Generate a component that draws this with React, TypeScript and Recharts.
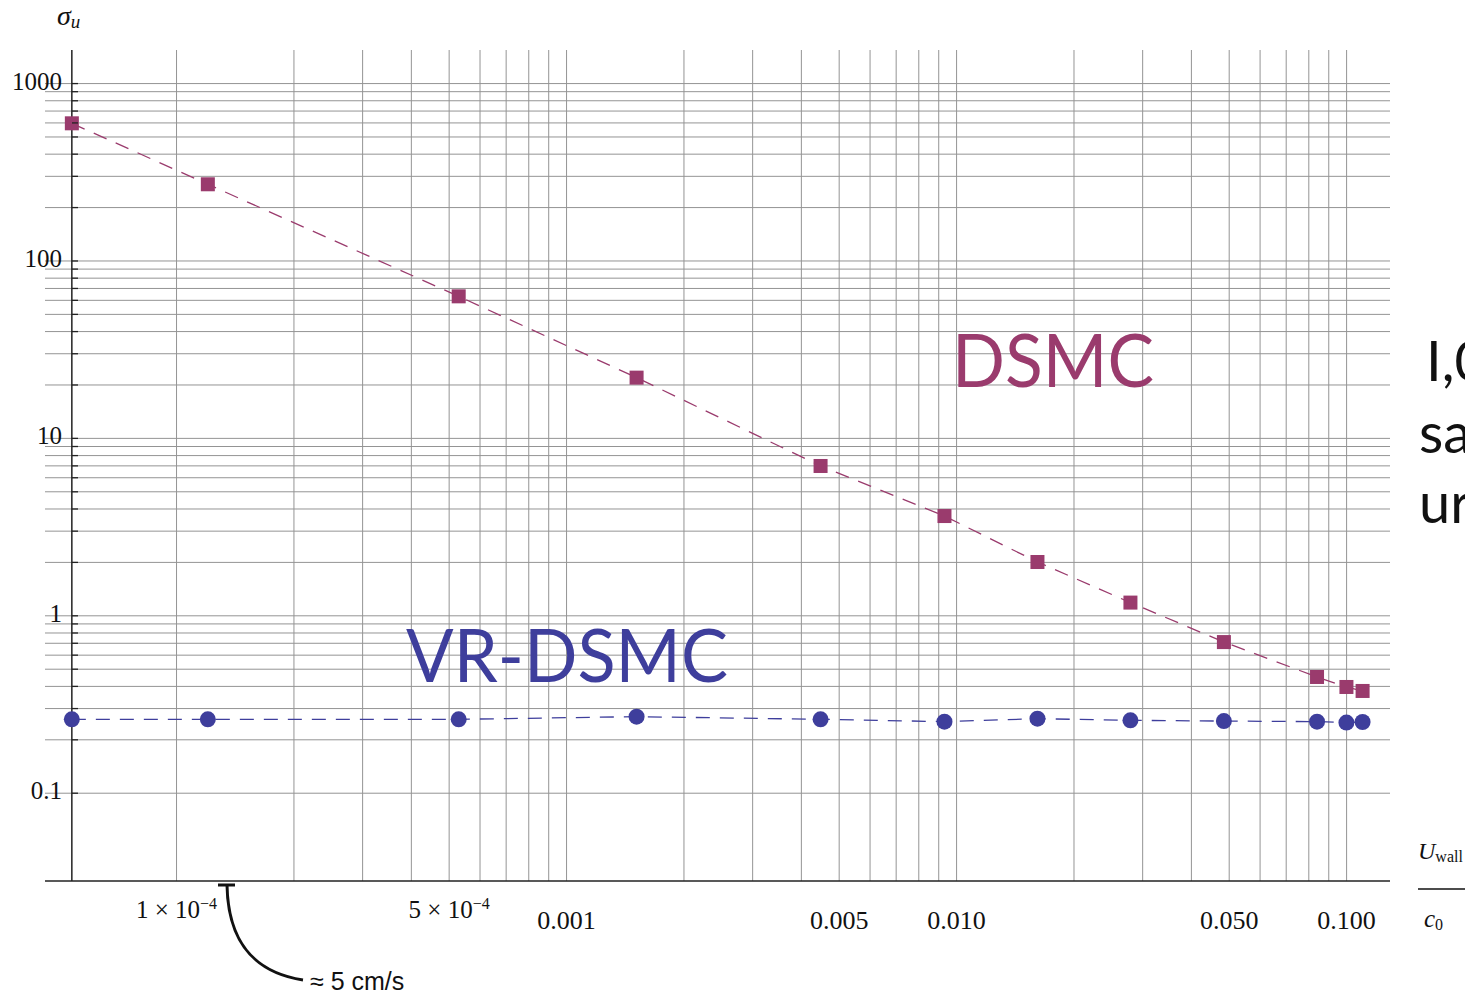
import React from "react";
import {
    ComposedChart,
    Line,
    XAxis,
    YAxis,
    CartesianGrid,
    ReferenceLine,
} from "recharts";

// wall speed U_wall / c0
const U = [5.39e-5, 1.203e-4, 5.29e-4, 1.512e-3, 4.48e-3, 9.31e-3, 0.01612, 0.02791, 0.04846, 0.08398, 0.0999, 0.1099];
// sigma_u, plain DSMC
const DSMC = [597, 270.6, 63.2, 22.0, 6.99, 3.65, 2.01, 1.187, 0.711, 0.452, 0.397, 0.377];
// sigma_u, variance reduced
const VR_DSMC = [0.261, 0.261, 0.261, 0.27, 0.261, 0.2532, 0.263, 0.2576, 0.255, 0.2532, 0.25, 0.252];

const X_TICKS = [1e-4, 5e-4, 0.001, 0.005, 0.01, 0.05, 0.1];
const X_TICK_LABELS = ["1 × 10|−4", "5 × 10|−4", "0.001", "0.005", "0.010", "0.050", "0.100"];
const Y_TICKS = [0.1, 1, 10, 100, 1000];
const Y_TICK_LABELS = ["0.1", "1", "10", "100", "1000"];

const X_DOMAIN = [4.6e-5, 0.1292];
const Y_DOMAIN = [0.032, 1546];
const Y_AXIS_AT = 5.39e-5;

const PLUM = "#9a3b6d";
const INDIGO = "#3e3e9c";
const GRID = "#949494";
const SERIF = "'Liberation Serif', 'Times New Roman', serif";
const SANS = "Lato, 'Open Sans', sans-serif";

const data = U.map((u, i) => ({ u, dsmc: DSMC[i], vr: VR_DSMC[i] }));

// grid at 1..9 x each decade
const decades = (from: number, to: number) => {
    const out: number[] = [];
    for (let k = from; k <= to; k++) {
        for (let m = 1; m <= 9; m++) {
            if (k === to && m > 1) break;
            out.push(m * Math.pow(10, k));
        }
    }
    return out;
};
const X_GRID = decades(-4, -1);
const Y_GRID = decades(-1, 3);

const isMajor = (v: number, list: number[]) =>
    list.findIndex((t) => Math.abs(t - v) / t < 1e-6);

function XTick(props: any) {
    const { x, payload } = props;
    const idx = isMajor(payload.value, X_TICKS);
    if (idx < 0) return null;
    const [base, sup] = X_TICK_LABELS[idx].split("|");
    if (sup) {
        return (
            <text x={x} y={918} textAnchor="middle" fontFamily={SERIF} fontSize={25} fill="#111">
                <tspan>{base}</tspan>
                <tspan dy={-9} fontSize={16}>{sup}</tspan>
            </text>
        );
    }
    return (
        <text x={x} y={929} textAnchor="middle" fontFamily={SERIF} fontSize={26} fill="#111">
            {base}
        </text>
    );
}

function YTick(props: any) {
    const { y, payload } = props;
    const idx = isMajor(payload.value, Y_TICKS);
    return (
        <g>
            <line x1={72} x2={78} y1={y} y2={y} stroke="#222" strokeWidth={1.3} />
            {idx >= 0 && (
                <text x={62} y={y + 6} textAnchor="end" fontFamily={SERIF} fontSize={25} fill="#111">
                    {Y_TICK_LABELS[idx]}
                </text>
            )}
        </g>
    );
}

const square = (props: any) => {
    const { cx, cy, index } = props;
    return <rect key={"s" + index} x={cx - 7} y={cy - 7} width={14} height={14} fill={PLUM} />;
};

const disc = (props: any) => {
    const { cx, cy, index } = props;
    return <circle key={"c" + index} cx={cx} cy={cy} r={8} fill={INDIGO} />;
};

export default function App() {
    return (
        <div style={{ position: "absolute", left: 0, top: 0, width: 1465, height: 995, background: "#fff" }}>
            <ComposedChart
                width={1465}
                height={995}
                data={data}
                margin={{ top: 50, right: 75, bottom: 74, left: 0 }}
            >
                <CartesianGrid
                    verticalValues={X_GRID}
                    horizontalValues={Y_GRID}
                    stroke={GRID}
                    strokeWidth={1}
                />
                <XAxis
                    dataKey="u"
                    type="number"
                    scale="log"
                    domain={X_DOMAIN}
                    allowDataOverflow
                    ticks={X_TICKS}
                    interval={0}
                    tick={<XTick />}
                    tickLine={false}
                    axisLine={{ stroke: "#222", strokeWidth: 1.5 }}
                    height={40}
                />
                <YAxis
                    type="number"
                    scale="log"
                    domain={Y_DOMAIN}
                    allowDataOverflow
                    ticks={Y_GRID}
                    interval={0}
                    tick={<YTick />}
                    tickLine={false}
                    axisLine={false}
                    width={45}
                />
                <ReferenceLine x={Y_AXIS_AT} stroke="#222" strokeWidth={1.5} />
                <Line
                    dataKey="dsmc"
                    type="linear"
                    stroke={PLUM}
                    strokeWidth={1.3}
                    strokeDasharray="14 10"
                    dot={square}
                    activeDot={false}
                    isAnimationActive={false}
                />
                <Line
                    dataKey="vr"
                    type="linear"
                    stroke={INDIGO}
                    strokeWidth={1.3}
                    strokeDasharray="14 10"
                    dot={disc}
                    activeDot={false}
                    isAnimationActive={false}
                />
            </ComposedChart>
            <svg
                width={1465}
                height={995}
                style={{ position: "absolute", left: 0, top: 0, pointerEvents: "none" }}
            >
                <text x={57} y={25} fontFamily={SERIF} fontStyle="italic" fontSize={28} fill="#111">
                    σ<tspan dy={3} fontSize={19}>u</tspan>
                </text>

                <text x={1418} y={859} fontFamily={SERIF} fontStyle="italic" fontSize={24} fill="#111">
                    U<tspan dy={3} fontSize={16} fontStyle="normal">wall</tspan>
                </text>
                <line x1={1418} x2={1465} y1={889} y2={889} stroke="#111" strokeWidth={1.5} />
                <text x={1424} y={927} fontFamily={SERIF} fontStyle="italic" fontSize={25} fill="#111">
                    c<tspan dy={3} fontSize={16} fontStyle="normal">0</tspan>
                </text>

                <text x={952} y={387} fontFamily={SANS} fontSize={73} fill={PLUM}
                    textLength={202} lengthAdjust="spacingAndGlyphs">
                    DSMC
                </text>
                <text x={406} y={682} fontFamily={SANS} fontSize={73} fill={INDIGO}
                    textLength={322} lengthAdjust="spacingAndGlyphs">
                    VR-DSMC
                </text>

                {/* slide text running past the right edge */}
                <text x={1426} y={381} fontFamily={SANS} fontSize={56} fill="#111">I,0</text>
                <text x={1419} y={453} fontFamily={SANS} fontSize={56} fill="#111">sa</text>
                <text x={1419} y={523} fontFamily={SANS} fontSize={56} fill="#111">ur</text>

                <path d="M 218 885 L 235 885 M 227 885 C 228 940, 252 972, 303 980" fill="none" stroke="#111" strokeWidth={3} />
                <text x={310} y={990} fontFamily="'Liberation Sans', Arial, sans-serif" fontSize={25} fill="#111">
                    ≈ 5 cm/s
                </text>
            </svg>
        </div>
    );
}
